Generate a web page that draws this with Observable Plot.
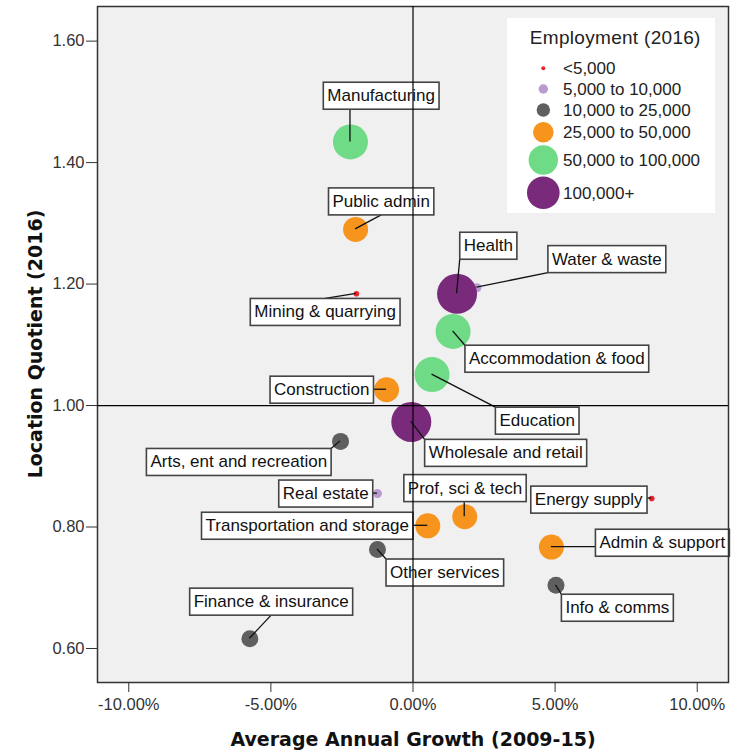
<!DOCTYPE html>
<html>
<head>
<meta charset="utf-8">
<script src="https://cdn.jsdelivr.net/npm/d3@7"></script>
<script src="https://cdn.jsdelivr.net/npm/@observablehq/plot@0.6"></script>
<style>
  body { margin: 0; background: #fff; }
  #chart { position: relative; width: 731px; height: 756px; }
</style>
</head>
<body>
<div id="chart"></div>
<script>
// ---- data ----
const sectors = ["Manufacturing","Public admin","Mining & quarrying","Water & waste","Health","Accommodation & food","Education","Construction","Wholesale and retail","Arts, ent and recreation","Real estate","Prof, sci & tech","Energy supply","Transportation and storage","Admin & support","Other services","Info & comms","Finance & insurance"];
const growth = [-2.20,-2.02,-1.99,2.25,1.55,1.41,0.67,-0.93,-0.06,-2.55,-1.25,1.82,8.40,0.52,4.87,-1.25,5.03,-5.74];
const lq = [1.434,1.290,1.184,1.194,1.184,1.122,1.051,1.026,0.973,0.941,0.855,0.817,0.847,0.802,0.767,0.763,0.704,0.616];
const employment = ["50,000 to 100,000","25,000 to 50,000","<5,000","5,000 to 10,000","100,000+","50,000 to 100,000","50,000 to 100,000","25,000 to 50,000","100,000+","10,000 to 25,000","5,000 to 10,000","25,000 to 50,000","<5,000","25,000 to 50,000","25,000 to 50,000","10,000 to 25,000","10,000 to 25,000","10,000 to 25,000"];
const bands = ["<5,000","5,000 to 10,000","10,000 to 25,000","25,000 to 50,000","50,000 to 100,000","100,000+"];
const bandColors = ["#e8262c","#b99bd1","#5f5f5f","#f7941e","#6fdb86","#7a2a7b"];
const xTicks = [-10,-5,0,5,10];
const yTicks = [0.6,0.8,1.0,1.2,1.4,1.6];
const legendTitle = "Employment (2016)";
const xTitle = "Average Annual Growth (2009-15)";
const yTitle = "Location Quotient (2016)";

// ---- layout (label placement, sizes) ----
const labelGrowth = [-1.12,-1.12,-3.09,6.82,2.65,5.06,4.37,-3.21,3.26,-6.13,-3.07,1.83,6.18,-3.72,8.77,1.12,7.19,-4.99];
const labelLQ = [1.510,1.336,1.154,1.241,1.263,1.077,0.975,1.026,0.922,0.907,0.855,0.864,0.845,0.802,0.774,0.725,0.667,0.677];
const leaderMode = ["near","mid","mid","near","near","near","near","near","near","near","near","near","near","near","near","near","near","mid"];
const bandRadius = [2.8, 4.5, 8.5, 12.5, 17.5, 20];
const legendRadius = [2, 4.7, 6.7, 10.3, 14.7, 16.3];
const legendRowY = [68.3, 89, 110, 132.3, 160, 192.7];

const rows = sectors.map((name, i) => ({
  name, growth: growth[i], lq: lq[i], band: employment[i],
  radius: bandRadius[bands.indexOf(employment[i])],
  lx: labelGrowth[i], ly: labelLQ[i], mode: leaderMode[i]
}));

const plot = Plot.plot({
  width: 731, height: 756,
  marginLeft: 97, marginRight: 3, marginTop: 6, marginBottom: 74,
  style: { fontFamily: "'Liberation Sans', Arial, sans-serif", fontSize: "16.5px", color: "#333", background: "#fff", overflow: "visible" },
  x: { domain: [-11.1, 11.1], ticks: xTicks, tickFormat: d => d.toFixed(2) + "%", tickSize: 10, tickPadding: 6, label: null },
  y: { domain: [0.544, 1.657], ticks: yTicks, tickFormat: d => d.toFixed(2), tickSize: 11, tickPadding: 2, label: null },
  r: { type: "identity" },
  color: { domain: bands, range: bandColors },
  marks: [
    Plot.frame({ fill: "#f0f0f0", stroke: null }),
    Plot.dot(rows, { x: "growth", y: "lq", r: "radius", fill: "band", stroke: "none", sort: null }),
    Plot.text(rows, { x: "lx", y: "ly", text: "name", fill: "#111", fontSize: 17 }),
    Plot.frame({ stroke: "#333", strokeWidth: 1.5 }),
    Plot.ruleX([0], { stroke: "#000", strokeWidth: 1.2 }),
    Plot.ruleY([1], { stroke: "#000", strokeWidth: 1.2 })
  ]
});

const chart = document.getElementById("chart");
chart.appendChild(plot);

const ns = "http://www.w3.org/2000/svg";
const sx = plot.scale("x"), sy = plot.scale("y");
const svgRect = plot.getBoundingClientRect();
const firstLabel = Array.from(plot.querySelectorAll("text")).find(t => t.textContent === sectors[0]);
// the mark group that holds the label texts
let labelG = firstLabel.parentNode;
while (labelG.parentNode !== plot) labelG = labelG.parentNode;
const leaderG = document.createElementNS(ns, "g");
const boxG = document.createElementNS(ns, "g");
plot.insertBefore(leaderG, labelG);
plot.insertBefore(boxG, labelG);

const texts = Array.from(labelG.querySelectorAll("text"));
texts.forEach(t => {
  const d = rows.find(r => r.name === t.textContent);
  if (!d) return;
  const b = t.getBoundingClientRect();
  const x0 = b.left - svgRect.left - 4, x1 = b.right - svgRect.left + 4;
  const y0 = b.top - svgRect.top - 4, y1 = b.bottom - svgRect.top + 4;
  const rect = document.createElementNS(ns, "rect");
  rect.setAttribute("x", x0); rect.setAttribute("y", y0);
  rect.setAttribute("width", x1 - x0); rect.setAttribute("height", y1 - y0);
  rect.setAttribute("fill", "#fff"); rect.setAttribute("stroke", "#444"); rect.setAttribute("stroke-width", 1.6);
  boxG.appendChild(rect);
  const px = sx.apply(d.growth), py = sy.apply(d.lq);
  let ex, ey;
  if (d.mode === "mid") {
    ex = (x0 + x1) / 2;
    ey = py < y0 ? y0 : y1;
  } else {
    ex = Math.max(x0, Math.min(x1, px));
    ey = Math.max(y0, Math.min(y1, py));
  }
  const line = document.createElementNS(ns, "line");
  line.setAttribute("x1", px); line.setAttribute("y1", py);
  line.setAttribute("x2", ex); line.setAttribute("y2", ey);
  line.setAttribute("stroke", "#111"); line.setAttribute("stroke-width", 1.3);
  leaderG.appendChild(line);
});

const svg = d3.select(plot);
// axis titles
svg.append("text").attr("x", 413).attr("y", 746).attr("text-anchor", "middle")
  .attr("font-family", "'DejaVu Sans', sans-serif").attr("font-weight", "bold").attr("font-size", 19)
  .attr("fill", "#111").text(xTitle);
svg.append("text").attr("transform", "translate(41.5,344) rotate(-90)").attr("text-anchor", "middle")
  .attr("font-family", "'DejaVu Sans', sans-serif").attr("font-weight", "bold").attr("font-size", 19)
  .attr("fill", "#111").text(yTitle);

// legend
const lg = svg.append("g").attr("transform", "translate(507,18)");
lg.append("rect").attr("width", 208).attr("height", 195).attr("fill", "#fff");
lg.append("text").attr("x", 108.3).attr("y", 25.5).attr("text-anchor", "middle")
  .attr("font-size", 19).attr("letter-spacing", 0.3).attr("fill", "#222").text(legendTitle);
bands.forEach((b, i) => {
  const cy = legendRowY[i] - 18;
  lg.append("circle").attr("cx", 36.3).attr("cy", cy).attr("r", legendRadius[i]).attr("fill", bandColors[i]);
  lg.append("text").attr("x", 56).attr("y", cy).attr("dy", "0.35em").attr("text-anchor", "start")
    .attr("font-size", 17).attr("fill", "#222").text(b);
});
</script>
</body>
</html>
